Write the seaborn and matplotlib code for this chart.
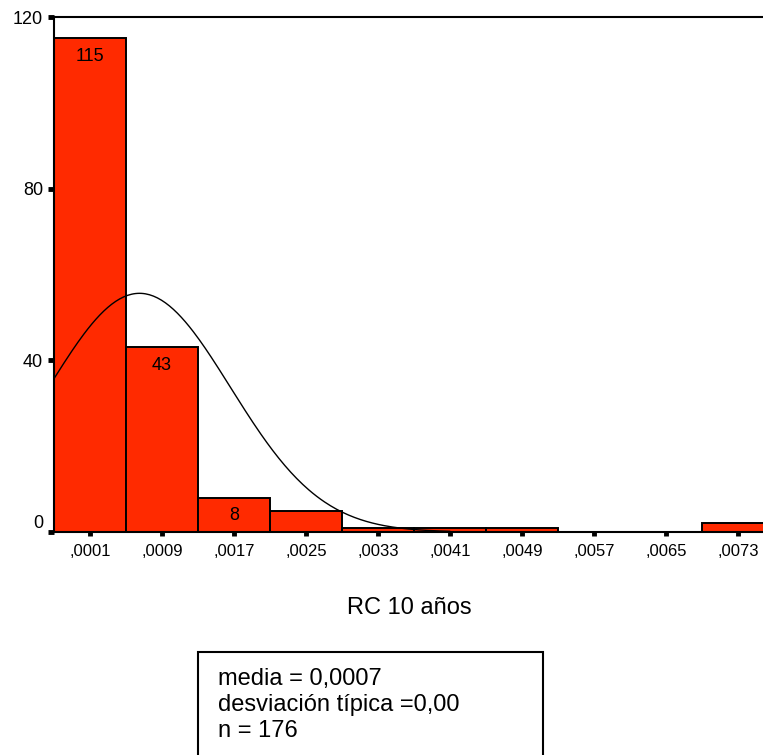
import numpy as np
import pandas as pd
import matplotlib
matplotlib.use("Agg")
import matplotlib.pyplot as plt
from matplotlib.patches import Rectangle
import seaborn as sns

sns.set_theme(style="white")
plt.rcParams["font.family"] = ["Liberation Sans", "DejaVu Sans"]
plt.rcParams["text.color"] = "black"
plt.rcParams["axes.labelcolor"] = "black"
plt.rcParams["xtick.color"] = "black"
plt.rcParams["ytick.color"] = "black"

# Histogram of RC 10 años: bin centers and counts
bin_centers = [0.0001, 0.0009, 0.0017, 0.0025, 0.0033, 0.0041, 0.0049, 0.0057, 0.0065, 0.0073]
counts = [115, 43, 8, 5, 1, 1, 1, 0, 0, 2]
tick_labels = [",0001", ",0009", ",0017", ",0025", ",0033", ",0041", ",0049", ",0057", ",0065", ",0073"]
y_ticks = [0, 40, 80, 120]

# Parameters of the fitted normal curve
mean_val = 0.00065
sd_val = 0.00101
n_obs = 176
bin_width = 0.0008

df = pd.DataFrame({"rc10": bin_centers, "freq": counts})
edges = [c - bin_width / 2 for c in bin_centers] + [bin_centers[-1] + bin_width / 2]

fig = plt.figure(figsize=(7.63, 7.55), dpi=100)
ax = fig.add_axes([54 / 763, 223 / 755, 720 / 763, 515 / 755])

sns.histplot(data=df, x="rc10", weights="freq", bins=edges, color="#FF2A00",
             alpha=1, edgecolor="black", linewidth=1.4, ax=ax)

# Normal curve scaled to counts
xs = np.linspace(edges[0], 0.0041, 200)
ys = n_obs * bin_width / (sd_val * np.sqrt(2 * np.pi)) * np.exp(-0.5 * ((xs - mean_val) / sd_val) ** 2)
sns.lineplot(x=xs, y=ys, color="black", linewidth=1.0, ax=ax)

# Count labels inside the taller bars
for c, v in zip(bin_centers, counts):
    if v >= 8:
        ax.annotate(str(v), (c, v), xytext=(0, -7), textcoords="offset points",
                    ha="center", va="top", fontsize=13, color="black")

ax.set_xlim(edges[0], edges[-1])
ax.set_ylim(0, 120)
ax.set_xticks(bin_centers)
ax.set_xticklabels(tick_labels, fontsize=12)
ax.set_yticks(y_ticks)
ax.set_yticklabels([str(t) for t in y_ticks], fontsize=13)
for lab in ax.get_yticklabels():
    if lab.get_text() == "0":
        lab.set_va("bottom")
ax.tick_params(axis="x", bottom=True, direction="out", length=3, width=3.5,
               color="black", labelcolor="black", pad=6)
ax.tick_params(axis="y", left=True, direction="out", length=4, width=3.5,
               color="black", labelcolor="black", pad=4)
ax.set_xlabel("RC 10 años", fontsize=17, color="black")
ax.xaxis.set_label_coords(355 / 720, -(608 - 532) / 515)
ax.xaxis.label.set_va("center")
ax.set_ylabel("")

for side in ["left", "bottom", "top"]:
    ax.spines[side].set_visible(True)
    ax.spines[side].set_color("black")
    ax.spines[side].set_linewidth(1.5)
ax.spines["right"].set_visible(False)

# Summary box below the chart
fig.patches.append(Rectangle((198 / 763, -10 / 755), 345 / 763, 113 / 755,
                             transform=fig.transFigure, fill=False,
                             edgecolor="black", linewidth=1.5))
box_lines = ["media = 0,0007", "desviación típica =0,00", "n = 176"]
for i, line in enumerate(box_lines):
    fig.text(218 / 763, 1 - (679 + 26 * i) / 755, line, fontsize=17,
             ha="left", va="center", color="black")

fig.savefig("out.png", dpi=100)
